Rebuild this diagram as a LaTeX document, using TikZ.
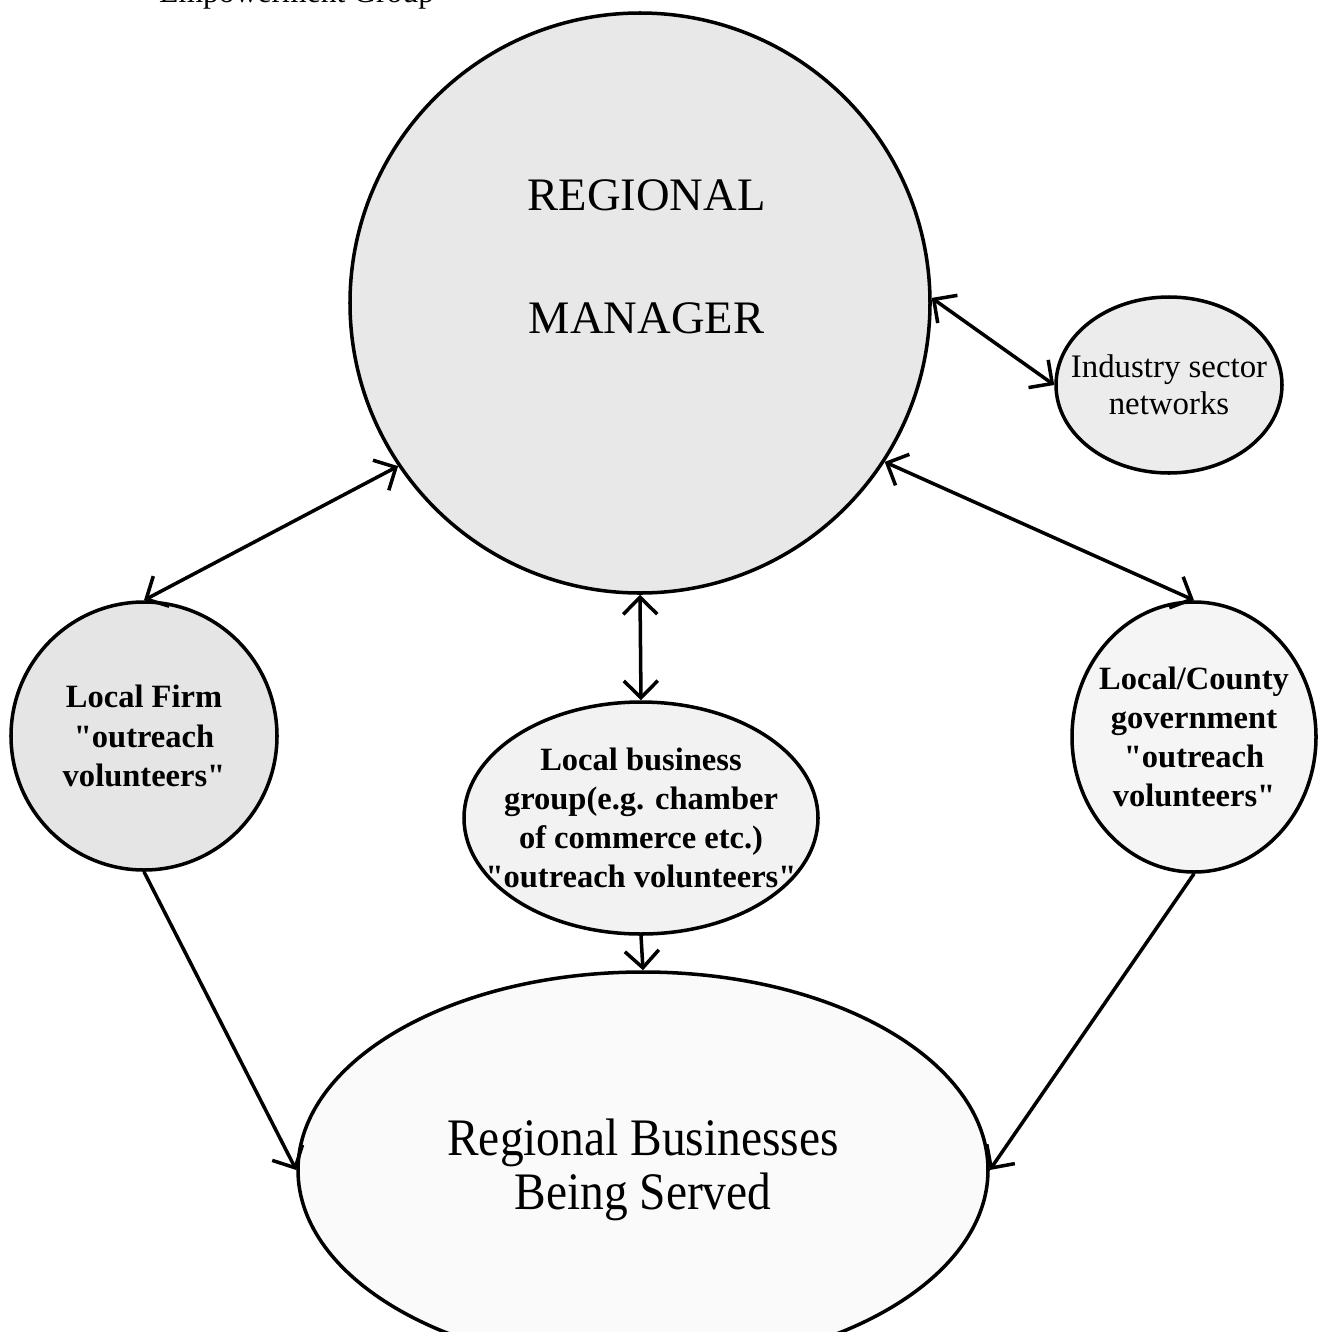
\documentclass[tikz,border=0pt]{standalone}
\usepackage{fontspec}
\setmainfont{Liberation Serif}
\newfontfamily\narrowserif{Liberation Serif}[FakeStretch=0.9]
\usetikzlibrary{arrows.meta,shapes.geometric}

\begin{document}
\begin{tikzpicture}[>={Straight Barb[length=3.4mm,width=6.8mm]},
  bubble/.style={draw, ellipse, line width=2pt, inner xsep=-0.8cm, inner ysep=-0.5cm, align=center},
  boldtext/.style={font=\bfseries\fontsize{18.5}{22.3}\selectfont},
  link/.style={line width=2pt}]
\useasboundingbox (0,0) rectangle (26.5,-26.64);
\node[anchor=base west, font=\fontsize{18}{21}\selectfont] (title) at (3.06,-0.05) {Empowerment Group};
\node[bubble, fill=gray!18, minimum width=11.6cm, minimum height=11.6cm] (rm) at (12.8,-6.06) {};
\node[align=center, font=\fontsize{26.5}{70}\selectfont] (rmlabel) at (12.93,-5.13) {REGIONAL\\MANAGER};
\node[bubble, fill=gray!15, minimum width=4.52cm, minimum height=3.52cm, font=\fontsize{18.7}{21}\selectfont] (isn) at (23.38,-7.7) {Industry sector\\networks};
\node[bubble, boldtext, fill=gray!20, minimum width=5.32cm, minimum height=5.36cm] (lf) at (2.88,-14.72) {Local Firm\\\textquotedbl outreach\\volunteers\textquotedbl};
\node[bubble, boldtext, fill=gray!10, minimum width=7.08cm, minimum height=4.64cm] (lbg) at (12.82,-16.36) {Local business\\group(e.g. chamber\\of commerce etc.)\\\textquotedbl outreach volunteers\textquotedbl};
\node[bubble, boldtext, fill=gray!8, minimum width=4.88cm, minimum height=5.4cm] (lcg) at (23.88,-14.74) {Local/County\\government\\\textquotedbl outreach\\volunteers\textquotedbl};
\node[bubble, fill=gray!4, minimum width=13.8cm, minimum height=7.92cm, font=\narrowserif\fontsize{30}{31}\selectfont] (rbs) at (12.86,-23.4) {Regional Businesses\\Being Served};
\draw[link, <->] (rm.214) -- (lf.north);
\draw[link, <->] (rm.south) -- (lbg.north);
\draw[link, <->] (rm.1) -- (isn.west);
\draw[link, <->] (rm.-33) -- (lcg.north);
\draw[link, ->] (lf.south) -- (rbs.west);
\draw[link, ->] (lbg.south) -- (rbs.north);
\draw[link, ->] (lcg.south) -- (rbs.east);
\end{tikzpicture}
\end{document}
